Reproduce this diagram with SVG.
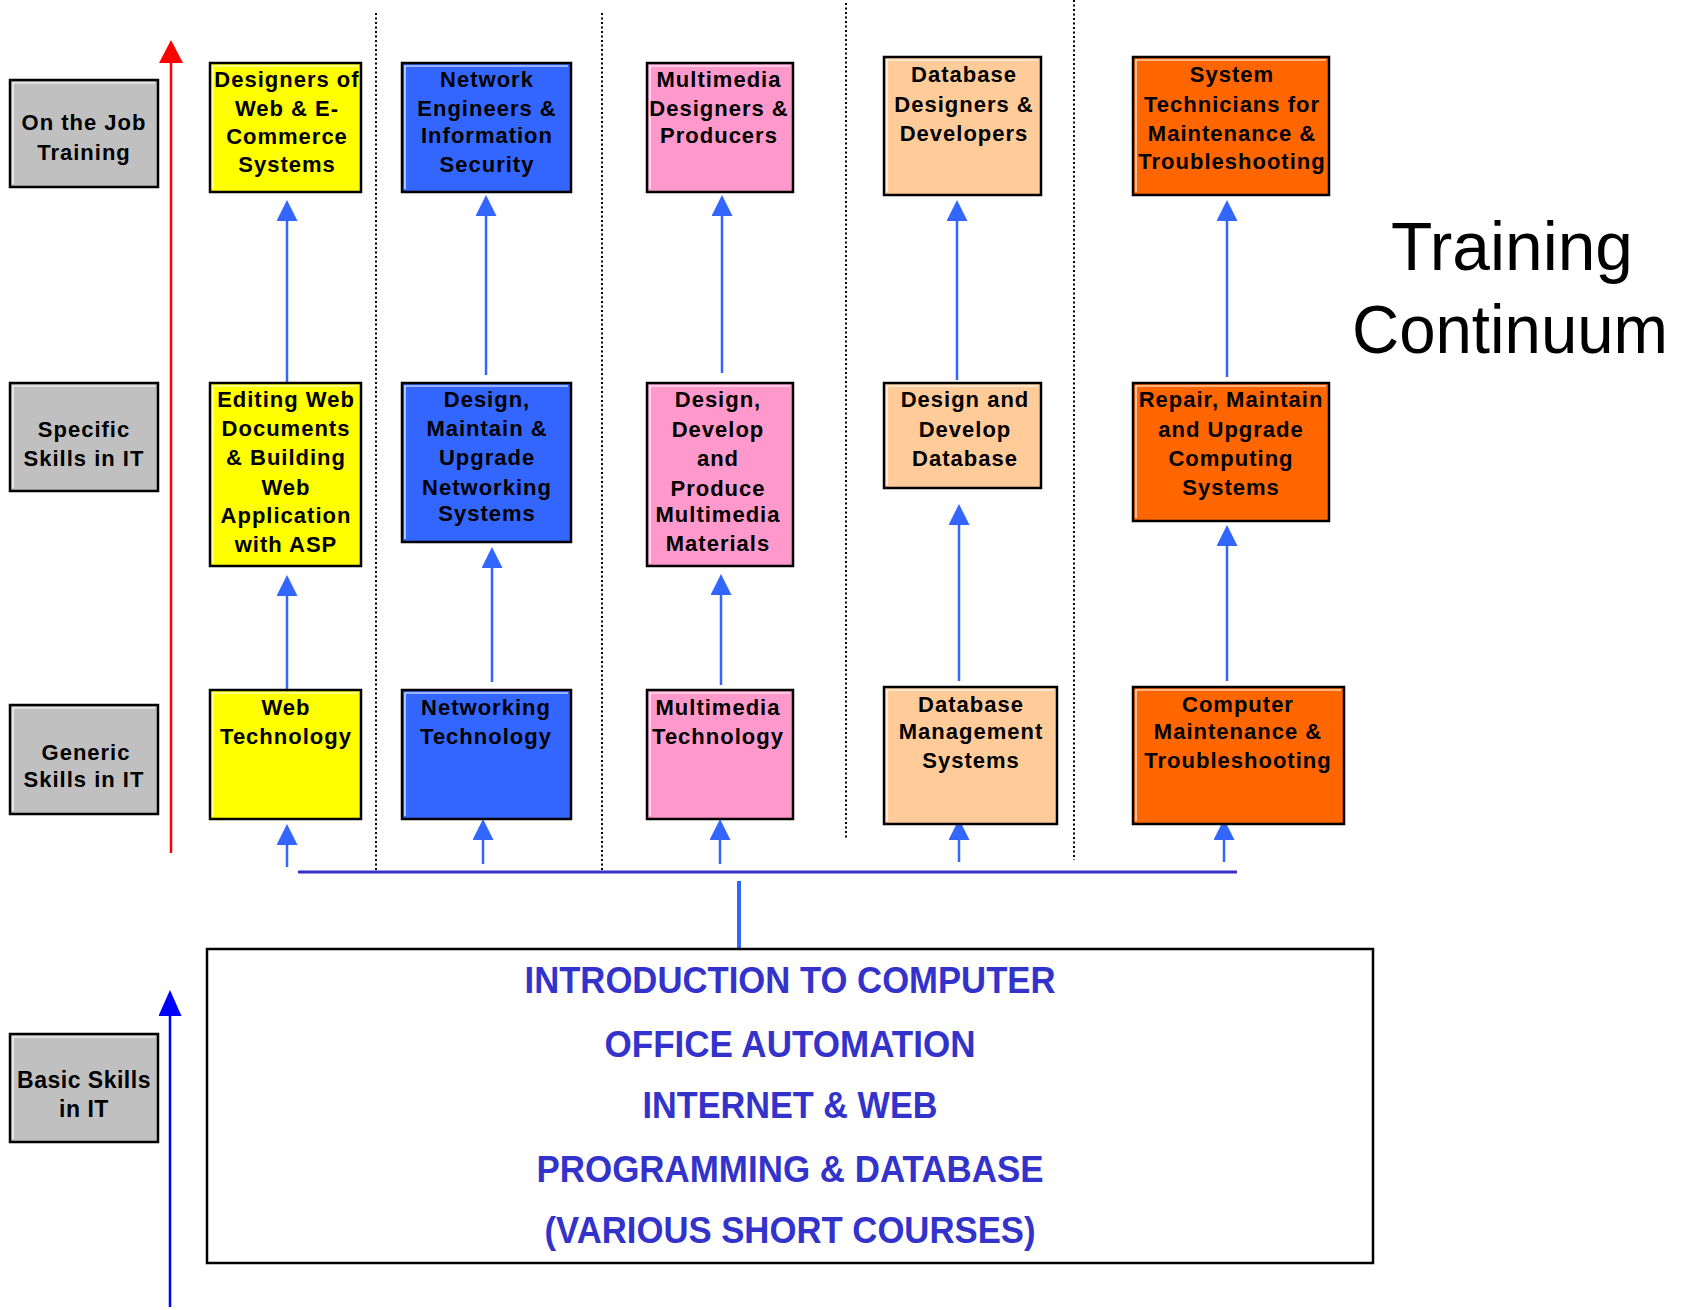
<svg xmlns="http://www.w3.org/2000/svg" width="1689" height="1310" viewBox="0 0 1689 1310">
<style>
.box{stroke:#000;stroke-width:2.5}
.hl{fill:none;stroke:#fff;stroke-width:1.2}
.gray{fill:#C0C0C0}.yel{fill:#FFFF00}.blu{fill:#3366FF}.pnk{fill:#FF99CC}.pch{fill:#FFCC99}.org{fill:#FF6600}
.t{font-family:"Liberation Sans",Arial,sans-serif;font-weight:bold;font-size:22px;letter-spacing:1px;text-anchor:middle;fill:#000}
.tb{font-family:"Liberation Sans",Arial,sans-serif;font-weight:bold;font-size:23px;letter-spacing:0.5px;text-anchor:middle;fill:#000}
.i{font-family:"Liberation Sans",Arial,sans-serif;font-weight:bold;font-size:36px;text-anchor:middle;fill:#3333CC}
.ti{font-family:"Liberation Sans",Arial,sans-serif;font-size:68px;text-anchor:middle;fill:#000}
.c{stroke:#3366FF;stroke-width:2.5;fill:none;marker-end:url(#ab)}
.dot{stroke:#000;stroke-width:2;stroke-dasharray:2 2.5;fill:none}
</style>
<defs>
<marker id="ab" markerUnits="userSpaceOnUse" markerWidth="21" markerHeight="21" viewBox="0 0 21 21" refX="3" refY="10.5" orient="auto"><path d="M0,0 L21,10.5 L0,21 z" fill="#3366FF"/></marker>
<marker id="ar" markerUnits="userSpaceOnUse" markerWidth="23" markerHeight="24" viewBox="0 0 23 24" refX="3" refY="12" orient="auto"><path d="M0,0 L23,12 L0,24 z" fill="#FF0000"/></marker>
<marker id="ak" markerUnits="userSpaceOnUse" markerWidth="26" markerHeight="23" viewBox="0 0 26 23" refX="3" refY="11.5" orient="auto"><path d="M0,0 L26,11.5 L0,23 z" fill="#0000FF"/></marker>
</defs>

<g id="separators">
<line class="dot" x1="376" y1="13" x2="376" y2="870"/>
<line class="dot" x1="602" y1="13" x2="602" y2="872"/>
<line class="dot" x1="846" y1="3" x2="846" y2="838"/>
<line class="dot" x1="1074" y1="0" x2="1074" y2="860"/>
</g>

<g id="axes">
<line x1="171" y1="853" x2="171" y2="60" stroke="#FF0000" stroke-width="2.5" marker-end="url(#ar)"/>
<line x1="170" y1="1307" x2="170" y2="1013" stroke="#0000FF" stroke-width="2.5" marker-end="url(#ak)"/>
</g>

<g id="connectors">
<line x1="298" y1="872" x2="1237" y2="872" stroke="#3333CC" stroke-width="3"/>
<line x1="739" y1="881" x2="739" y2="948" stroke="#3366FF" stroke-width="4"/>
<line class="c" x1="287" y1="867" x2="287" y2="842"/>
<line class="c" x1="287" y1="690" x2="287" y2="593"/>
<line class="c" x1="287" y1="383" x2="287" y2="218"/>
<line class="c" x1="483" y1="864" x2="483" y2="837"/>
<line class="c" x1="492" y1="682" x2="492" y2="565"/>
<line class="c" x1="486" y1="375" x2="486" y2="213"/>
<line class="c" x1="720" y1="864" x2="720" y2="837"/>
<line class="c" x1="721" y1="685" x2="721" y2="592"/>
<line class="c" x1="722" y1="373" x2="722" y2="213"/>
<line class="c" x1="959" y1="862" x2="959" y2="837"/>
<line class="c" x1="959" y1="681" x2="959" y2="522"/>
<line class="c" x1="957" y1="380" x2="957" y2="218"/>
<line class="c" x1="1224" y1="862" x2="1224" y2="837"/>
<line class="c" x1="1227" y1="681" x2="1227" y2="543"/>
<line class="c" x1="1227" y1="377" x2="1227" y2="218"/>
</g>

<g id="lab-ojt">
<rect class="box gray" x="10" y="80" width="148" height="107"/>
<path class="hl" d="M13,184 V83 H155"/>
<text class="t" x="84" y="130">On the Job</text>
<text class="t" x="84" y="160">Training</text>
</g>
<g id="lab-specific">
<rect class="box gray" x="10" y="383" width="148" height="108"/>
<path class="hl" d="M13,488 V386 H155"/>
<text class="t" x="84" y="437">Specific</text>
<text class="t" x="84" y="466">Skills in IT</text>
</g>
<g id="lab-generic">
<rect class="box gray" x="10" y="705" width="148" height="109"/>
<path class="hl" d="M13,811 V708 H155"/>
<text class="t" x="86" y="760">Generic</text>
<text class="t" x="84" y="787">Skills in IT</text>
</g>
<g id="lab-basic">
<rect class="box gray" x="10" y="1034" width="148" height="108"/>
<path class="hl" d="M13,1139 V1037 H155"/>
<text class="tb" x="84" y="1088">Basic Skills</text>
<text class="tb" x="84" y="1117">in IT</text>
</g>

<g id="web-jobs">
<rect class="box yel" x="210" y="63" width="151" height="129"/>
<path class="hl" d="M213,189 V66 H358"/>
<text class="t" x="287" y="87">Designers of</text>
<text class="t" x="287" y="116">Web &amp; E-</text>
<text class="t" x="287" y="144">Commerce</text>
<text class="t" x="287" y="172">Systems</text>
</g>
<g id="web-specific">
<rect class="box yel" x="210" y="383" width="151" height="183"/>
<path class="hl" d="M213,563 V386 H358"/>
<text class="t" x="286" y="407">Editing Web</text>
<text class="t" x="286" y="436">Documents</text>
<text class="t" x="286" y="465">&amp; Building</text>
<text class="t" x="286" y="495">Web</text>
<text class="t" x="286" y="523">Application</text>
<text class="t" x="286" y="552">with ASP</text>
</g>
<g id="web-generic">
<rect class="box yel" x="210" y="690" width="151" height="129"/>
<path class="hl" d="M213,816 V693 H358"/>
<text class="t" x="286" y="715">Web</text>
<text class="t" x="286" y="744">Technology</text>
</g>

<g id="net-jobs">
<rect class="box blu" x="402" y="63" width="169" height="129"/>
<path class="hl" d="M405,189 V66 H568"/>
<text class="t" x="487" y="87">Network</text>
<text class="t" x="487" y="116">Engineers &amp;</text>
<text class="t" x="487" y="143">Information</text>
<text class="t" x="487" y="172">Security</text>
</g>
<g id="net-specific">
<rect class="box blu" x="402" y="383" width="169" height="159"/>
<path class="hl" d="M405,539 V386 H568"/>
<text class="t" x="487" y="407">Design,</text>
<text class="t" x="487" y="436">Maintain &amp;</text>
<text class="t" x="487" y="465">Upgrade</text>
<text class="t" x="487" y="495">Networking</text>
<text class="t" x="487" y="521">Systems</text>
</g>
<g id="net-generic">
<rect class="box blu" x="402" y="690" width="169" height="129"/>
<path class="hl" d="M405,816 V693 H568"/>
<text class="t" x="486" y="715">Networking</text>
<text class="t" x="486" y="744">Technology</text>
</g>

<g id="mm-jobs">
<rect class="box pnk" x="647" y="63" width="146" height="129"/>
<path class="hl" d="M650,189 V66 H790"/>
<text class="t" x="719" y="87">Multimedia</text>
<text class="t" x="719" y="116">Designers &amp;</text>
<text class="t" x="719" y="143">Producers</text>
</g>
<g id="mm-specific">
<rect class="box pnk" x="647" y="383" width="146" height="183"/>
<path class="hl" d="M650,563 V386 H790"/>
<text class="t" x="718" y="407">Design,</text>
<text class="t" x="718" y="437">Develop</text>
<text class="t" x="718" y="466">and</text>
<text class="t" x="718" y="496">Produce</text>
<text class="t" x="718" y="522">Multimedia</text>
<text class="t" x="718" y="551">Materials</text>
</g>
<g id="mm-generic">
<rect class="box pnk" x="647" y="690" width="146" height="129"/>
<path class="hl" d="M650,816 V693 H790"/>
<text class="t" x="718" y="715">Multimedia</text>
<text class="t" x="718" y="744">Technology</text>
</g>

<g id="db-jobs">
<rect class="box pch" x="884" y="57" width="157" height="138"/>
<path class="hl" d="M887,192 V60 H1038"/>
<text class="t" x="964" y="82">Database</text>
<text class="t" x="964" y="112">Designers &amp;</text>
<text class="t" x="964" y="141">Developers</text>
</g>
<g id="db-specific">
<rect class="box pch" x="884" y="383" width="157" height="105"/>
<path class="hl" d="M887,485 V386 H1038"/>
<text class="t" x="965" y="407">Design and</text>
<text class="t" x="965" y="437">Develop</text>
<text class="t" x="965" y="466">Database</text>
</g>
<g id="db-generic">
<rect class="box pch" x="884" y="687" width="173" height="137"/>
<path class="hl" d="M887,821 V690 H1054"/>
<text class="t" x="971" y="712">Database</text>
<text class="t" x="971" y="739">Management</text>
<text class="t" x="971" y="768">Systems</text>
</g>

<g id="sys-jobs">
<rect class="box org" x="1133" y="57" width="196" height="138"/>
<path class="hl" d="M1136,192 V60 H1326"/>
<text class="t" x="1232" y="82">System</text>
<text class="t" x="1232" y="112">Technicians for</text>
<text class="t" x="1232" y="141">Maintenance &amp;</text>
<text class="t" x="1232" y="169">Troubleshooting</text>
</g>
<g id="sys-specific">
<rect class="box org" x="1133" y="383" width="196" height="138"/>
<path class="hl" d="M1136,518 V386 H1326"/>
<text class="t" x="1231" y="407">Repair, Maintain</text>
<text class="t" x="1231" y="437">and Upgrade</text>
<text class="t" x="1231" y="466">Computing</text>
<text class="t" x="1231" y="495">Systems</text>
</g>
<g id="sys-generic">
<rect class="box org" x="1133" y="687" width="211" height="137"/>
<path class="hl" d="M1136,821 V690 H1341"/>
<text class="t" x="1238" y="712">Computer</text>
<text class="t" x="1238" y="739">Maintenance &amp;</text>
<text class="t" x="1238" y="768">Troubleshooting</text>
</g>

<g id="basic-courses">
<rect x="207" y="949" width="1166" height="314" fill="#fff" stroke="#000" stroke-width="2.5"/>
<text class="i" x="790" y="993" textLength="531" lengthAdjust="spacingAndGlyphs">INTRODUCTION TO COMPUTER</text>
<text class="i" x="790" y="1057" textLength="371" lengthAdjust="spacingAndGlyphs">OFFICE AUTOMATION</text>
<text class="i" x="790" y="1118" textLength="295" lengthAdjust="spacingAndGlyphs">INTERNET &amp; WEB</text>
<text class="i" x="790" y="1182" textLength="507" lengthAdjust="spacingAndGlyphs">PROGRAMMING &amp; DATABASE</text>
<text class="i" x="790" y="1243" textLength="491" lengthAdjust="spacingAndGlyphs">(VARIOUS SHORT COURSES)</text>
</g>

<g id="title">
<text class="ti" x="1512" y="270" textLength="242" lengthAdjust="spacingAndGlyphs">Training</text>
<text class="ti" x="1510" y="353" textLength="316" lengthAdjust="spacingAndGlyphs">Continuum</text>
</g>
</svg>
